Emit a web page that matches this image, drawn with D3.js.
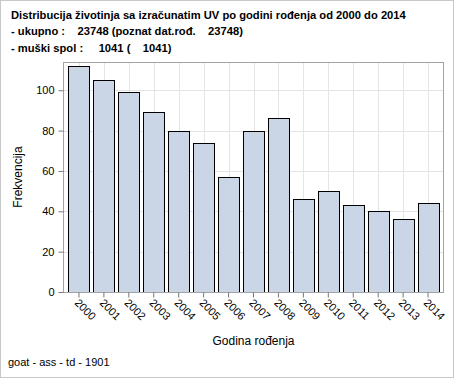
<!DOCTYPE html>
<html><head><meta charset="utf-8">
<script src="https://cdn.jsdelivr.net/npm/d3@7"></script>
<style>body{margin:0;background:#fff}svg{display:block}text{font-family:"Liberation Sans",Arial,sans-serif}</style>
</head><body><svg id="c" width="454" height="378"></svg>
<script>
const years = ["2000","2001","2002","2003","2004","2005","2006","2007","2008","2009","2010","2011","2012","2013","2014"];
const counts = [112,105,99,89,80,74,57,80,86,46,50,43,40,36,44];
const yTicks = [0,20,40,60,80,100];
const titleLines = ["Distribucija životinja sa izračunatim UV po godini rođenja od 2000 do 2014",
  "- ukupno :    23748 (poznat dat.rođ.    23748)",
  "- muški spol :     1041 (    1041)"];
const xTitle = "Godina rođenja", yTitle = "Frekvencija", footer = "goat - ass - td - 1901";

const svg = d3.select("#c");
const W=454,H=378, L=63, R=444, T=62, B=292;
svg.append("rect").attr("x",0.5).attr("y",0.5).attr("width",W-1).attr("height",H-1).attr("fill","#fff").attr("stroke","#c8c8c8");

svg.selectAll("text.title").data(titleLines).enter().append("text")
  .attr("x",11).attr("y",(d,i)=>18.5+i*16.7).attr("font-size",11.2).attr("font-weight","bold")
  .style("white-space","pre").attr("fill","#000").text(d=>d);

const x = d3.scaleBand().domain(years).range([L,R]).paddingInner(0.16).paddingOuter(0.22);
const y = d3.scaleLinear().domain([0,114]).range([B,T]);

// gridlines
const g = svg.append("g");
g.selectAll("line.hg").data(yTicks.slice(1)).enter().append("line")
  .attr("x1",L).attr("x2",R).attr("y1",d=>Math.round(y(d))+0.5).attr("y2",d=>Math.round(y(d))+0.5).attr("stroke","#e4e4e4");
g.selectAll("line.vg").data(years).enter().append("line")
  .attr("x1",d=>Math.round(x(d)+x.bandwidth()/2)+0.5).attr("x2",d=>Math.round(x(d)+x.bandwidth()/2)+0.5)
  .attr("y1",T).attr("y2",B).attr("stroke","#e4e4e4");

// bars
svg.selectAll("rect.bar").data(counts).enter().append("rect")
  .attr("x",(d,i)=>Math.round(x(years[i]))+0.5).attr("width",Math.round(x.bandwidth()))
  .attr("y",d=>Math.round(y(d))+0.5).attr("height",d=>Math.round(B-y(d)))
  .attr("fill","#cad5e5").attr("stroke","#000").attr("stroke-width",1);

// frame
svg.append("rect").attr("x",L+0.5).attr("y",T+0.5).attr("width",R-L-1).attr("height",B-T).attr("fill","none").attr("stroke","#a0a4a8");

// y axis
const ya = svg.append("g").attr("transform",`translate(${L+0.5},0)`)
  .call(d3.axisLeft(y).tickValues(yTicks).tickSize(5).tickSizeOuter(0).tickPadding(4));
ya.select(".domain").remove();
ya.selectAll("line").attr("stroke","#777");
ya.selectAll("text").attr("font-size",11).attr("font-family","Liberation Sans, Arial, sans-serif").attr("fill","#000");

// x axis
const xa = svg.append("g").attr("transform",`translate(0,${B+0.5})`)
  .call(d3.axisBottom(x).tickSize(5).tickSizeOuter(0));
xa.select(".domain").remove();
xa.selectAll("line").attr("stroke","#777");
xa.selectAll("text").attr("font-size",11).attr("font-family","Liberation Sans, Arial, sans-serif").attr("fill","#000")
  .attr("text-anchor","start").attr("dy",null).attr("y",0)
  .attr("transform","translate(-5,11) rotate(45)");

svg.append("text").attr("x",(L+R)/2).attr("y",345).attr("text-anchor","middle").attr("font-size",12).text(xTitle);
svg.append("text").attr("transform",`translate(22,${(T+B)/2}) rotate(-90)`).attr("text-anchor","middle").attr("font-size",12).text(yTitle);
svg.append("text").attr("x",8).attr("y",366).attr("font-size",11).text(footer);
</script></body></html>
